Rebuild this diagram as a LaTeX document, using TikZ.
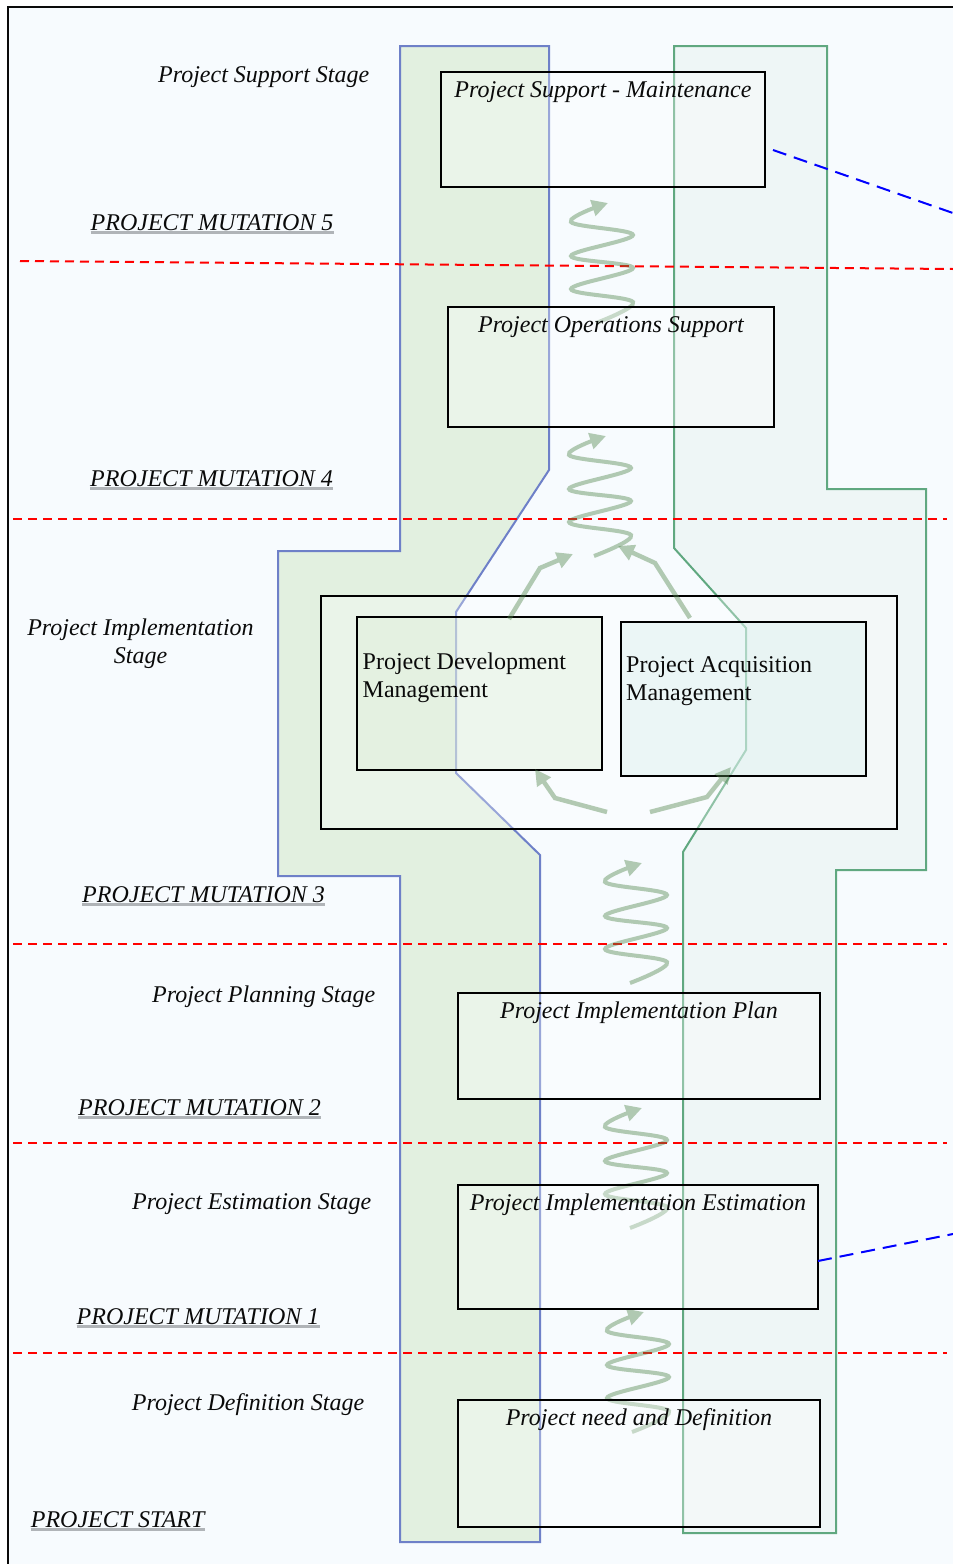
\documentclass[tikz,border=0pt]{standalone}
\usepackage{fontspec}
\setmainfont{Liberation Serif}
\usetikzlibrary{arrows.meta,calc}

\definecolor{bgcol}{HTML}{F7FBFE}
\definecolor{lanebluedraw}{HTML}{6E80C8}
\definecolor{laneblue}{HTML}{E2F0E0}
\definecolor{lanegreendraw}{HTML}{60A880}
\definecolor{lanegreen}{HTML}{EEF6F6}
\definecolor{flowcol}{HTML}{50844B}
\definecolor{ulcol}{HTML}{B0B4B8}
\definecolor{devfill}{HTML}{DDEDD5}
\definecolor{acqfill}{HTML}{D8EFEC}
\definecolor{inkcol}{HTML}{0A0A0A}

% wavy transition arrow: #1 = centre x, #2 = y of the lower end
\newcommand{\flowwave}[2]{%
  \draw[flow] plot[smooth, tension=0.6] coordinates {
    (#1-6,#2) (#1+31,#2-21) (#1-31,#2-34) (#1+31,#2-55)
    (#1-31,#2-67) (#1+31,#2-88) (#1-31,#2-101) (#1+6,#2-120)};}

\begin{document}
\begin{tikzpicture}[x=1pt,y=-1pt,
  stagebox/.style={draw=black, line width=2pt, fill=white, fill opacity=0.3,
    inner sep=0pt, outer sep=0pt},
  boxtitle/.style={font=\fontsize{24}{28}\selectfont\itshape, inner sep=0pt,
    anchor=base, text=inkcol},
  boxtext/.style={font=\fontsize{24}{28}\selectfont, inner sep=0pt,
    anchor=base west, text=inkcol},
  lbl/.style={font=\fontsize{24}{28}\selectfont\itshape, inner sep=0pt,
    anchor=base west, text=inkcol},
  clbl/.style={lbl, anchor=base},
  uline/.style={draw=ulcol, line width=2.6pt},
  gate/.style={draw=red, line width=2pt, dash pattern=on 9pt off 6pt},
  link/.style={draw=blue, line width=2pt, dash pattern=on 14pt off 8pt},
  flow/.style={draw=flowcol, line width=4pt,
    -{Triangle[length=16pt,width=16pt]}},
  flowbent/.style={draw=flowcol, line width=4.5pt,
    -{Triangle[length=16pt,width=16pt]}},
]
\path[use as bounding box] (0,0) rectangle (953,1564);
\clip (0,0) rectangle (953,1564);

% frame and paper
\draw[draw=inkcol, line width=2.5pt, fill=bgcol] (8,7) rectangle (1000,1600);

% the two swim lanes
\draw[draw=lanebluedraw, line width=2pt, fill=laneblue]
  (400,46) -- (549,46) -- (549,470) -- (456,612) -- (456,773) -- (540,855)
  -- (540,1542) -- (400,1542) -- (400,876) -- (278,876) -- (278,551)
  -- (400,551) -- cycle;
\draw[draw=lanegreendraw, line width=2pt, fill=lanegreen]
  (674,46) -- (827,46) -- (827,489) -- (926,489) -- (926,870) -- (836,870)
  -- (836,1533) -- (683,1533) -- (683,852) -- (746,750) -- (746,628)
  -- (674,548) -- cycle;

% stage boundaries
\coordinate (g5a) at (20,261);  \coordinate (g5b) at (1000,269.4);
\coordinate (g4a) at (13,519);  \coordinate (g4b) at (947,519);
\coordinate (g3a) at (13,944);  \coordinate (g3b) at (947,944);
\coordinate (g2a) at (13,1143); \coordinate (g2b) at (947,1143);
\coordinate (g1a) at (13,1353); \coordinate (g1b) at (947,1353);
\foreach \g in {g5,g4,g3,g2,g1} \draw[gate] (\g a) -- (\g b);

% transitions between stages
\begin{scope}[transparency group, opacity=0.42]
  \flowwave{602}{323}
  \flowwave{600}{556}
  \flowwave{636}{983}
  \flowwave{636}{1228}
  \flowwave{638}{1432}
\end{scope}

% stage boxes
\node[stagebox, minimum width=324pt, minimum height=115pt] (sup) at (603,129.5) {};
\node[stagebox, minimum width=326pt, minimum height=120pt] (ops) at (611,367) {};
\node[stagebox, minimum width=576pt, minimum height=233pt] (impl) at (609,712.5) {};
\node[stagebox, fill=devfill, fill opacity=0.4, minimum width=245pt, minimum height=153pt] (dev) at (479.5,693.5) {};
\node[stagebox, fill=acqfill, fill opacity=0.4, minimum width=245pt, minimum height=154pt] (acq) at (743.5,699) {};
\node[stagebox, minimum width=362pt, minimum height=106pt] (plan) at (639,1046) {};
\node[stagebox, minimum width=360pt, minimum height=124pt] (est) at (638,1247) {};
\node[stagebox, minimum width=362pt, minimum height=127pt] (def) at (639,1463.5) {};

% exchanges inside the implementation stage
\begin{scope}[transparency group, opacity=0.42]
  \coordinate (d1) at (509,619); \coordinate (d2) at (540,568); \coordinate (d3) at (573,554);
  \coordinate (a1) at (690,618); \coordinate (a2) at (655,563); \coordinate (a3) at (618,546);
  \coordinate (b1) at (607,812); \coordinate (b2) at (555,798); \coordinate (b3) at (535,769);
  \coordinate (c1) at (650,812); \coordinate (c2) at (707,797); \coordinate (c3) at (731,767);
  \draw[flowbent] (d1) -- (d2) -- (d3);
  \draw[flowbent] (a1) -- (a2) -- (a3);
  \draw[flowbent] (b1) -- (b2) -- (b3);
  \draw[flowbent] (c1) -- (c2) -- (c3);
\end{scope}

% links leaving the page
\coordinate (supout) at (1000,229.5);
\coordinate (estout) at (1000,1224.6);
\draw[link] ($(sup.south east)+(8,-37)$) -- (supout);
\draw[link] ($(est.east)+(0,14)$) -- (estout);

% box captions
\node[boxtitle] (supT)  at ([yshift=-25pt]sup.north)  {Project Support - Maintenance};
\node[boxtitle] (opsT)  at ([yshift=-25pt]ops.north)  {Project Operations Support};
\node[boxtitle] (planT) at ([yshift=-25pt]plan.north) {Project Implementation Plan};
\node[boxtitle] (estT)  at ([yshift=-25pt]est.north)  {Project Implementation Estimation};
\node[boxtitle] (defT)  at ([yshift=-25pt]def.north)  {Project need and Definition};
\node[boxtext] (devT1) at (362.5,669) {Project Development};
\node[boxtext] (devT2) at (362.5,697) {Management};
\node[boxtext] (acqT1) at (626,672) {Project Acquisition};
\node[boxtext] (acqT2) at (626,700) {Management};

% stage names
\node[lbl] (supS)  at (158,82)    {Project Support Stage};
\node[clbl] (implS1) at (140.5,635) {Project Implementation};
\node[clbl] (implS2) at (140.5,663) {Stage};
\node[lbl] (planS) at (152,1002)  {Project Planning Stage};
\node[lbl] (estS)  at (132,1209)  {Project Estimation Stage};
\node[lbl] (defS)  at (131.7,1410) {Project Definition Stage};

% mutation milestones
\node[lbl] (m5) at (90.5,230)  {PROJECT MUTATION 5};
\node[lbl] (m4) at (90,486)    {PROJECT MUTATION 4};
\node[lbl] (m3) at (82,902)    {PROJECT MUTATION 3};
\node[lbl] (m2) at (78,1115)   {PROJECT MUTATION 2};
\node[lbl] (m1) at (76.5,1324) {PROJECT MUTATION 1};
\node[lbl] (m0) at (30.7,1527) {PROJECT START};
\foreach \m in {m5,m4,m3,m2,m1,m0}
  \draw[uline] ([yshift=-2.5pt]\m.base west) -- ([yshift=-2.5pt]\m.base east);
\end{tikzpicture}
\end{document}
